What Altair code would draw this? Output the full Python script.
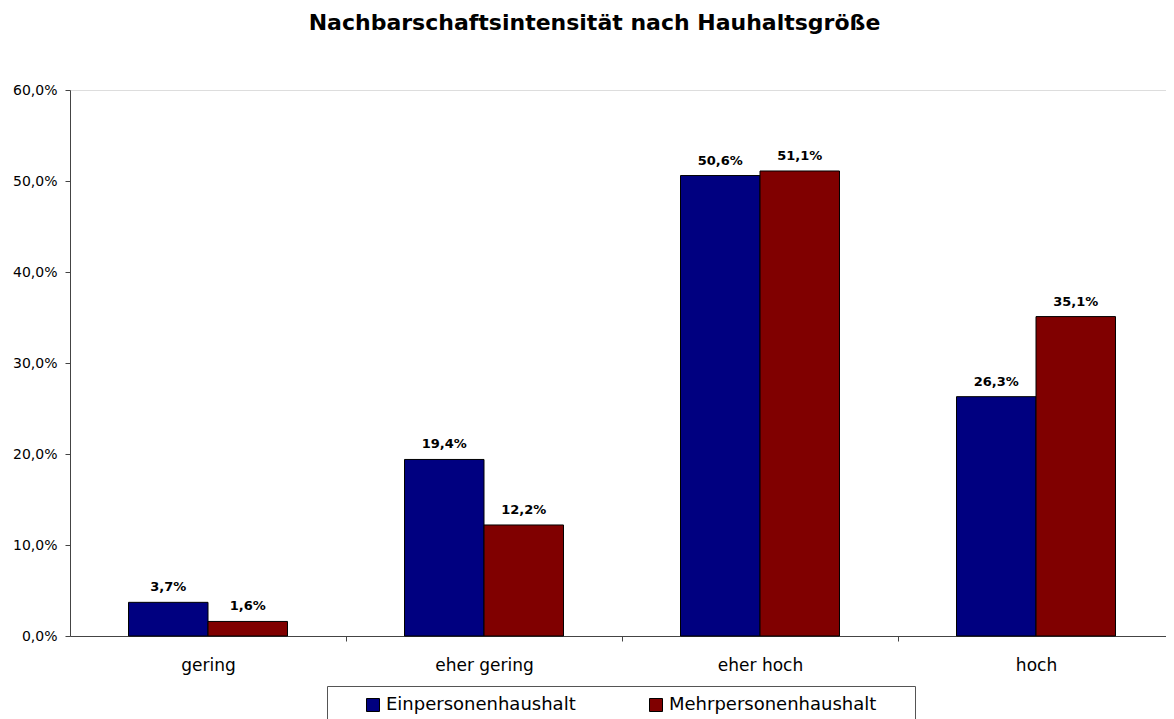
import altair as alt
import pandas as pd

categories = ["gering", "eher gering", "eher hoch", "hoch"]
series = ["Einpersonenhaushalt", "Mehrpersonenhaushalt"]
einpersonen = [3.7, 19.4, 50.6, 26.3]
mehrpersonen = [1.6, 12.2, 51.1, 35.1]
colors = ["#000080", "#800000"]
title_text = "Nachbarschaftsintensität nach Hauhaltsgröße"

rows = []
for s, vals in zip(series, [einpersonen, mehrpersonen]):
    for c, v in zip(categories, vals):
        rows.append({"cat": c, "series": s, "value": v / 100.0,
                     "label": f"{v:.1f}%".replace(".", ",")})
df = pd.DataFrame(rows)

FONT = "DejaVu Sans"

# plot area runs to the right edge of the page; the last few pixels are cut by the page
x_scale = alt.Scale(paddingInner=0.424, paddingOuter=0.212, range=[0, 1104])
x_enc = alt.X("cat:N", sort=categories, title=None, scale=x_scale,
              axis=alt.Axis(labelAngle=0, labelFont=FONT, labelFontSize=17,
                            labelColor="black", labelPadding=16,
                            tickSize=5, tickOffset=138, labelOffset=-138,
                            domainColor="#444", tickColor="#444", grid=False))
xoff = alt.XOffset("series:N", sort=series,
                   scale=alt.Scale(paddingInner=0, paddingOuter=0))
y_enc = alt.Y("value:Q", title=None,
              scale=alt.Scale(domain=[0, 0.6], nice=False),
              axis=alt.Axis(values=[0, 0.1, 0.2, 0.3, 0.4, 0.5, 0.6],
                            labelExpr="replace(format(datum.value, '.1%'), '.', ',')",
                            labelFont=FONT, labelFontSize=14, labelColor="black",
                            labelPadding=8, tickSize=5, grid=False,
                            domainColor="#444", tickColor="#444"))

last_label = series[-1]
pad_tail = "\u00a0" * 5 + "\u200b"
legend = alt.Legend(
    orient="none", legendX=257, legendY=596, direction="horizontal", columns=2,
    title="\u00a0", titleOrient="left", titleFontSize=1, titlePadding=27,
    padding=10, strokeColor="#555", fillColor="white",
    symbolType="square", symbolSize=169, symbolStrokeColor="black",
    symbolStrokeWidth=1, symbolOpacity=1,
    labelFont=FONT, labelFontSize=18, labelColor="black", labelOffset=4,
    labelLimit=400, columnPadding=71,
    labelExpr=f"datum.label == '{last_label}' ? datum.label + '{pad_tail}' : datum.label",
)

bars = alt.Chart(df).mark_bar(stroke="black", strokeWidth=1, opacity=1).encode(
    x=x_enc, xOffset=xoff, y=y_enc,
    color=alt.Color("series:N", sort=series,
                    scale=alt.Scale(domain=series, range=colors), legend=legend),
)

texts = alt.Chart(df).mark_text(font=FONT, fontSize=13, fontWeight="bold",
                                 baseline="alphabetic", dy=-11, color="black").encode(
    x=alt.X("cat:N", sort=categories, scale=x_scale), xOffset=xoff,
    y="value:Q", text="label:N",
)

chart = alt.layer(bars, texts).properties(
    width=1096, height=546,
    title=alt.TitleParams(text=title_text, font=FONT, fontSize=22, fontWeight="bold",
                          anchor="middle", frame="bounds", offset=31, dx=1,
                          baseline="alphabetic", color="black"),
    autosize=alt.AutoSizeParams(type="none"),
    padding={"left": 62, "top": 82, "right": 0, "bottom": 83},
).configure_view(stroke=None).configure(font=FONT)

chart.save("out.html", embed_options={"renderer": "svg", "actions": False})
